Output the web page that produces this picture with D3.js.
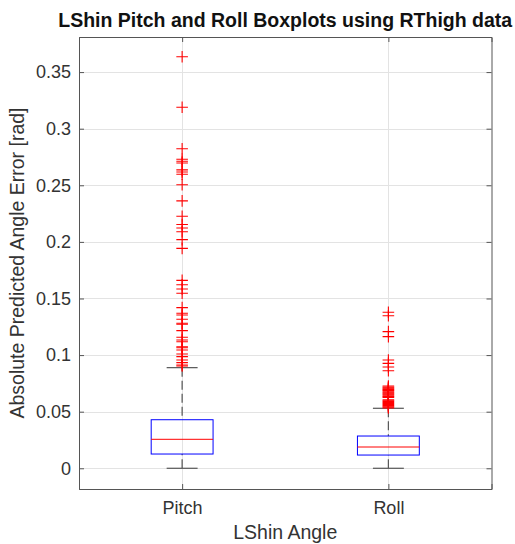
<!DOCTYPE html>
<html>
<head>
<meta charset="utf-8">
<script src="https://cdn.jsdelivr.net/npm/d3@7"></script>
<style>
  html, body { margin: 0; padding: 0; background: #fff; }
  svg { display: block; }
  text { font-family: "Liberation Sans", Arial, Helvetica, sans-serif; }
</style>
</head>
<body>
<svg id="chart" width="515" height="544"></svg>
<script>
// ---- data ----
const categories = ["Pitch", "Roll"];
const whiskerLow = [0, 0];
const q1 = [0.0126, 0.0117];
const medians = [0.0256, 0.0188];
const q3 = [0.0429, 0.0285];
const whiskerHigh = [0.0889, 0.0530];
const pitchOutliers = [0.3636, 0.3190, 0.2823, 0.2730, 0.2712, 0.2697, 0.2636, 0.2618, 0.2597,
  0.2505, 0.2362, 0.2226, 0.2154, 0.2123, 0.2090, 0.2020, 0.1943, 0.1660, 0.1622, 0.1584,
  0.1546, 0.1419, 0.1369, 0.1354, 0.1316, 0.1281, 0.1272, 0.1216, 0.1157, 0.1133, 0.1118,
  0.1074, 0.1065, 0.1045, 0.1010, 0.0986, 0.0957, 0.0933, 0.0913, 0.0904];
const rollOutliers = [0.1378, 0.1348, 0.1207, 0.1163, 0.0957, 0.0927, 0.0895, 0.0862,
  0.0727, 0.0718, 0.0710, 0.0702, 0.0695, 0.0688, 0.0680, 0.0672, 0.0665, 0.0657, 0.0649,
  0.0641, 0.0633, 0.0626, 0.0604, 0.0597, 0.0589, 0.0580, 0.0572, 0.0564, 0.0556, 0.0548,
  0.0540, 0.0533];
const outliers = [pitchOutliers, rollOutliers];
const yTicks = [0, 0.05, 0.1, 0.15, 0.2, 0.25, 0.3, 0.35];
const yTickLabels = ["0", "0.05", "0.1", "0.15", "0.2", "0.25", "0.3", "0.35"];
const titleText = "LShin Pitch and Roll Boxplots using RThigh data";
const xLabelText = "LShin Angle";
const yLabelText = "Absolute Predicted Angle Error [rad]";

// ---- layout ----
const L = 79, R = 491.5, T = 37, B = 489;
const svg = d3.select("#chart");
const x = d3.scaleLinear().domain([0.5, 2.5]).range([L, R]);
const y = d3.scaleLinear().domain([-0.0183, 0.381]).range([B, T]);
const boxHalf = 0.15, capHalf = 0.075;
const axisColor = "#555", textColor = "#333", gridColor = "#e3e3e3";

// grid
const grid = svg.append("g");
grid.selectAll("line.h").data(yTicks).join("line")
  .attr("x1", L).attr("x2", R)
  .attr("y1", d => Math.round(y(d)) + 0.5).attr("y2", d => Math.round(y(d)) + 0.5)
  .attr("stroke", gridColor).attr("stroke-width", 1);
grid.selectAll("line.v").data(categories).join("line")
  .attr("x1", (d, i) => Math.round(x(i + 1)) + 0.5).attr("x2", (d, i) => Math.round(x(i + 1)) + 0.5)
  .attr("y1", T).attr("y2", B)
  .attr("stroke", gridColor).attr("stroke-width", 1);

// boxes
const g = svg.append("g");
categories.forEach((c, i) => {
  const cx = x(i + 1);
  // whiskers (dashed)
  g.append("line").attr("x1", cx).attr("x2", cx)
    .attr("y1", y(whiskerHigh[i])).attr("y2", y(q3[i]))
    .attr("stroke", axisColor).attr("stroke-width", 1.2).attr("stroke-dasharray", "9,4");
  g.append("line").attr("x1", cx).attr("x2", cx)
    .attr("y1", y(whiskerLow[i])).attr("y2", y(q1[i]))
    .attr("stroke", axisColor).attr("stroke-width", 1.2).attr("stroke-dasharray", "9,4");
  // caps
  [whiskerHigh[i], whiskerLow[i]].forEach(v => {
    g.append("line").attr("x1", x(i + 1 - capHalf)).attr("x2", x(i + 1 + capHalf))
      .attr("y1", y(v)).attr("y2", y(v))
      .attr("stroke", axisColor).attr("stroke-width", 1.2);
  });
  // box
  g.append("rect").attr("x", x(i + 1 - boxHalf)).attr("y", y(q3[i]))
    .attr("width", x(i + 1 + boxHalf) - x(i + 1 - boxHalf))
    .attr("height", y(q1[i]) - y(q3[i]))
    .attr("fill", "none").attr("stroke", "#0000ff").attr("stroke-width", 1);
  // median
  g.append("line").attr("x1", x(i + 1 - boxHalf)).attr("x2", x(i + 1 + boxHalf))
    .attr("y1", y(medians[i])).attr("y2", y(medians[i]))
    .attr("stroke", "#ff0000").attr("stroke-width", 1);
  // outliers
  const ms = 5.8;
  g.selectAll(null).data(outliers[i]).join("path")
    .attr("d", d => `M${cx - ms},${y(d)}H${cx + ms}M${cx},${y(d) - ms}V${y(d) + ms}`)
    .attr("stroke", "#ff0000").attr("stroke-width", 1.1).attr("fill", "none");
});

// axes (ticks inward)
svg.append("g").attr("transform", `translate(${L},0)`)
  .call(d3.axisLeft(y).tickValues(yTicks).tickFormat((d, i) => yTickLabels[i]).tickSize(-5).tickPadding(8))
  .call(s => s.selectAll("text").attr("fill", textColor).style("font-size", "18px"))
  .call(s => s.selectAll("line, path").attr("stroke", axisColor));
svg.append("g").attr("transform", `translate(${R},0)`)
  .call(d3.axisRight(y).tickValues(yTicks).tickFormat("").tickSize(-5))
  .call(s => s.selectAll("line, path").attr("stroke", axisColor));
svg.append("g").attr("transform", `translate(0,${B})`)
  .call(d3.axisBottom(x).tickValues([1, 2]).tickFormat((d, i) => categories[i]).tickSize(-5).tickPadding(12))
  .call(s => s.selectAll("text").attr("fill", textColor).style("font-size", "18px"))
  .call(s => s.selectAll("line, path").attr("stroke", axisColor));
svg.append("g").attr("transform", `translate(0,${T})`)
  .call(d3.axisTop(x).tickValues([1, 2]).tickFormat("").tickSize(-5))
  .call(s => s.selectAll("line, path").attr("stroke", axisColor));
svg.selectAll(".domain").attr("stroke-width", 1);

// labels
svg.append("text").attr("x", (L + R) / 2).attr("y", 27).attr("text-anchor", "middle")
  .style("font-size", "19.5px").style("font-weight", "bold").attr("fill", "#111").text(titleText);
svg.append("text").attr("x", (L + R) / 2).attr("y", 539).attr("text-anchor", "middle")
  .style("font-size", "19.5px").attr("fill", textColor).text(xLabelText);
svg.append("text").attr("transform", `translate(24,${(T + B) / 2}) rotate(-90)`).attr("text-anchor", "middle")
  .style("font-size", "19.5px").attr("fill", textColor).text(yLabelText);
</script>
</body>
</html>
